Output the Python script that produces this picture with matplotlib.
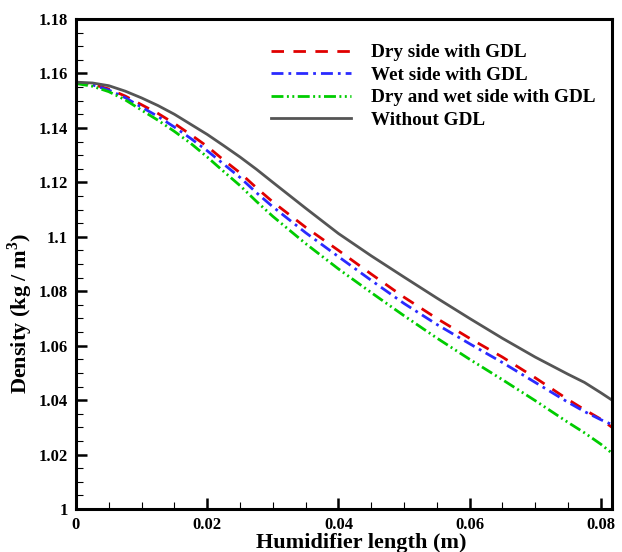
import numpy as np
import matplotlib
matplotlib.use('Agg')
import matplotlib.pyplot as plt
from matplotlib.ticker import MultipleLocator

plt.rcParams['font.family'] = ['Liberation Serif', 'DejaVu Serif']
plt.rcParams['font.weight'] = 'bold'
plt.rcParams['mathtext.fontset'] = 'custom'
plt.rcParams['mathtext.rm'] = 'Liberation Serif:bold'

# humidifier length (m)
x = [0, 0.0025, 0.005, 0.0075, 0.01, 0.0125, 0.015, 0.0175, 0.02, 0.0225,
     0.025, 0.0275, 0.03, 0.035, 0.04, 0.045, 0.05, 0.055, 0.06, 0.065,
     0.07, 0.075, 0.0775, 0.08, 0.0817]

# density (kg/m3)
dry_gdl = [1.1567, 1.1560, 1.1543, 1.1517, 1.1485, 1.1453, 1.1416, 1.1375, 1.1332, 1.1282,
           1.1235, 1.1180, 1.1128, 1.1035, 1.0950, 1.0863, 1.0778, 1.0700, 1.0627, 1.0558,
           1.0482, 1.0402, 1.0365, 1.0330, 1.0300]
wet_gdl = [1.1567, 1.1558, 1.1539, 1.1511, 1.1476, 1.1442, 1.1403, 1.1361, 1.1316, 1.1267,
           1.1218, 1.1162, 1.1110, 1.1015, 1.0927, 1.0840, 1.0755, 1.0678, 1.0607, 1.0538,
           1.0465, 1.0392, 1.0358, 1.0328, 1.0310]
both_gdl = [1.1563, 1.1553, 1.1533, 1.1503, 1.1465, 1.1428, 1.1387, 1.1343, 1.1293, 1.1240,
            1.1188, 1.1130, 1.1075, 1.0975, 1.0882, 1.0795, 1.0710, 1.0628, 1.0550, 1.0475,
            1.0398, 1.0318, 1.0280, 1.0238, 1.0205]
no_gdl = [1.1568, 1.1565, 1.1555, 1.1535, 1.1510, 1.1482, 1.1450, 1.1413, 1.1376, 1.1335,
          1.1293, 1.1248, 1.1200, 1.1105, 1.1012, 1.0930, 1.0852, 1.0775, 1.0700, 1.0627,
          1.0558, 1.0495, 1.0465, 1.0427, 1.0400]

labels = ["Dry side with GDL", "Wet side with GDL",
          "Dry and wet side with GDL", "Without GDL"]

fig = plt.figure(figsize=(6.22, 5.52), dpi=100)
ax = fig.add_axes([76 / 622, 1 - 509 / 552, 536 / 622, 490 / 552])

lw = 2.0
ax.plot(x, dry_gdl, color='#e00000', lw=lw, dashes=(4.5, 3.4), label=labels[0])
ax.plot(x, wet_gdl, color='#2a2aff', lw=lw, dashes=(4.3, 1.8, 1.0, 1.8), label=labels[1])
ax.plot(x, both_gdl, color='#00cc00', lw=lw,
        dashes=(4.3, 1.25, 0.7, 1.25, 0.7, 1.25), label=labels[2])
ax.plot(x, no_gdl, color='#555555', lw=lw, label=labels[3])

ax.set_xlim(0, 0.0817)
ax.set_ylim(1.0, 1.18)
ax.xaxis.set_minor_locator(MultipleLocator(0.005))
ax.yaxis.set_minor_locator(MultipleLocator(0.005))
ax.set_xticks([0, 0.02, 0.04, 0.06, 0.08])
ax.set_xticklabels(['0', '0.02', '0.04', '0.06', '0.08'])
ax.set_yticks(np.round(np.arange(1.0, 1.181, 0.02), 2))
ax.set_yticklabels(['1', '1.02', '1.04', '1.06', '1.08', '1.1',
                    '1.12', '1.14', '1.16', '1.18'])

ax.tick_params(which='both', direction='in', top=False, right=False, labelsize=12)
ax.tick_params(which='major', length=8, width=1.8, pad=6)
ax.tick_params(which='minor', length=5, width=0.8)
for s in ax.spines.values():
    s.set_linewidth(2.2)

ax.set_xlabel('Humidifier length (m)', fontsize=16, fontweight='bold', labelpad=0)
ax.xaxis.set_label_coords(0.532, -0.048)
ax.set_ylabel(r'Density (kg / m$^3$)', fontsize=16, fontweight='bold')
ax.yaxis.set_label_coords(-0.077, 0.40)

ax.legend(loc='upper left', bbox_to_anchor=(271 / 622, 1 - 44 / 552),
          bbox_transform=fig.transFigure, frameon=False, fontsize=13.8,
          handlelength=4.17, handletextpad=1.05, labelspacing=0.26,
          borderaxespad=0, borderpad=0)

fig.savefig('out.png', dpi=100)
